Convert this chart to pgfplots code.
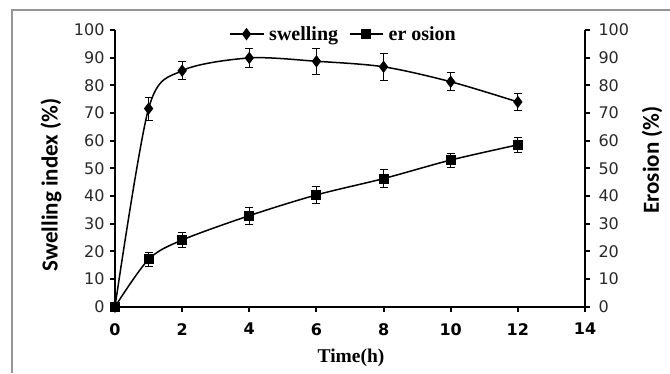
\documentclass[border=0pt]{standalone}
\usepackage{fontspec}
\setmainfont{Liberation Serif}
\newfontfamily\dvfont{DejaVu Sans}
\newfontfamily\carlfont{Carlito}
\usepackage{pgfplots}
\pgfplotsset{compat=1.18}
\begin{document}
\begin{tikzpicture}[x=1pt,y=1pt]
\useasboundingbox (0,0) rectangle (670,373);
\draw[color={rgb,255:red,150;green,150;blue,150}, line width=1.5pt] (12,0) -- (12,363) -- (670,363);
\begin{axis}[
  at={(115pt,66.3pt)}, anchor=origin,
  scale only axis, width=470pt, height=276.7pt,
  xmin=0, xmax=14, ymin=0, ymax=100,
  axis x line=bottom, axis y line=left,
  axis line style={-, line width=2pt},
  xtick={0,2,...,14}, ytick={0,10,...,100},
  tick align=outside, major tick length=5pt,
  tick style={line width=2pt, black},
  /pgf/number format/assume math mode=true,
  yticklabel style={font=\dvfont\fontsize{16}{18}\selectfont, color={rgb,255:red,40;green,40;blue,40}, xshift=-2pt},
  xticklabel style={font=\dvfont\bfseries\fontsize{16}{18}\selectfont, yshift=-8pt},
  clip=false,
  legend columns=2,
  legend style={draw=none, fill=none, at={(0.49,0.985)}, anchor=center,
     font=\bfseries\fontsize{20}{22}\selectfont, /tikz/every even column/.append style={column sep=6pt},
     nodes={inner xsep=5pt}},
  legend image code/.code={\draw[mark repeat=2,mark phase=2,#1] plot coordinates {(0pt,0pt) (16pt,0pt) (33pt,0pt)};},
]
\addplot[black, line width=1.5pt, smooth, tension=0.5, mark=diamond*, mark size=5pt, mark options={solid},
  error bars/.cd, y dir=both, y explicit, error bar style={line width=0.8pt}, error mark options={rotate=90, mark size=4pt, line width=0.8pt}]
  coordinates {(0,0) +- (0,0) (1,71.6) +- (0,4.1) (2,85.3) +- (0,3.2) (4,89.9) +- (0,3.3) (6,88.7) +- (0,4.6) (8,86.7) +- (0,4.8) (10,81.3) +- (0,3.3) (12,74) +- (0,3.0)};
\addlegendentry{swelling}
\addplot[black, line width=1.5pt, smooth, tension=0.5, mark=square*, mark size=4.2pt, mark options={solid},
  error bars/.cd, y dir=both, y explicit, error bar style={line width=0.8pt}, error mark options={rotate=90, mark size=4pt, line width=0.8pt}]
  coordinates {(0,0) +- (0,0) (1,17.1) +- (0,2.6) (2,24.1) +- (0,2.8) (4,32.9) +- (0,3.0) (6,40.4) +- (0,3.0) (8,46.3) +- (0,3.2) (10,53) +- (0,2.5) (12,58.5) +- (0,2.8)};
\addlegendentry{er osion}
\end{axis}
\begin{axis}[
  at={(115pt,66.3pt)}, anchor=origin,
  scale only axis, width=470pt, height=276.7pt,
  xmin=0, xmax=14, ymin=0, ymax=100,
  axis x line=none, axis y line=right,
  axis line style={-, line width=2pt},
  ytick={0,10,...,100},
  tick align=outside, major tick length=5pt,
  tick style={line width=2pt, black},
  /pgf/number format/assume math mode=true,
  yticklabel style={font=\dvfont\fontsize{16}{18}\selectfont, color={rgb,255:red,40;green,40;blue,40}, xshift=5pt},
]
\end{axis}
\node[rotate=90, font=\carlfont\bfseries\fontsize{23}{25}\selectfont] at (51,188) {Swelling index (\%)};
\node[rotate=90, font=\carlfont\bfseries\fontsize{23}{25}\selectfont] at (652,213) {Erosion (\%)};
\node[font=\bfseries\fontsize{19.5}{21}\selectfont] at (351,15) {Time(h)};
\end{tikzpicture}
\end{document}
